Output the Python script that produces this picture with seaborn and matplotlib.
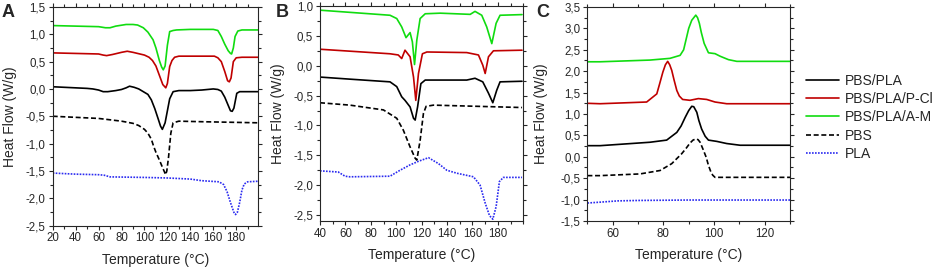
import numpy as np
import pandas as pd
import matplotlib
matplotlib.use('Agg')
import matplotlib.pyplot as plt
import seaborn as sns
from matplotlib.ticker import MultipleLocator, FuncFormatter

sns.set_style('ticks')
plt.rcParams['font.family'] = ['Liberation Sans', 'DejaVu Sans']

""" data read off the DSC curves """
Labels = ['PBS/PLA', 'PBS/PLA/P-Cl', 'PBS/PLA/A-M', 'PBS', 'PLA']
Colors = ['#000000', '#c00000', '#10dc10', '#000000', '#2b2bf0']

# panel A
A_T_blend = [20, 30, 40, 50, 55, 60, 64, 68, 75, 80, 84, 87, 91, 95, 99, 103, 106, 109, 112, 114, 115.6, 118, 120, 122, 125, 130, 140, 150, 160, 164, 167, 170, 173, 175, 176.5, 178, 180.5, 183, 190, 199]
A_HF_blend = [0.04, 0.03, 0.02, 0.01, 0.0, -0.02, -0.05, -0.05, -0.03, -0.01, 0.02, 0.05, 0.03, 0.0, -0.05, -0.1, -0.2, -0.36, -0.55, -0.68, -0.74, -0.62, -0.4, -0.18, -0.05, -0.03, -0.03, -0.02, 0.0, -0.01, -0.04, -0.15, -0.3, -0.4, -0.41, -0.35, -0.08, -0.05, -0.05, -0.05]
A_T_pcl = [20, 40, 60, 64, 67, 72, 80, 85, 90, 96, 100, 104, 107, 110, 113, 116, 118.6, 120, 122, 124, 126.3, 130, 150, 161, 164, 167, 170, 172.5, 174, 175.5, 177.5, 180, 185, 199]
A_HF_pcl = [0.66, 0.65, 0.64, 0.62, 0.61, 0.63, 0.67, 0.69, 0.67, 0.64, 0.62, 0.58, 0.52, 0.42, 0.25, 0.08, 0.02, 0.1, 0.41, 0.52, 0.58, 0.6, 0.6, 0.6, 0.57, 0.5, 0.32, 0.15, 0.13, 0.2, 0.5, 0.57, 0.58, 0.58]
A_T_am = [20, 40, 60, 66, 70, 75, 84, 90, 94, 99, 103, 107.5, 110, 113, 115, 116.4, 118, 120, 122, 125, 128, 140, 160, 164, 167, 170, 173, 175, 176, 177.5, 179, 181.4, 185, 199]
A_HF_am = [1.16, 1.15, 1.14, 1.12, 1.12, 1.15, 1.18, 1.18, 1.17, 1.12, 1.04, 0.9, 0.75, 0.52, 0.4, 0.35, 0.42, 0.8, 1.05, 1.07, 1.08, 1.09, 1.09, 1.07, 0.96, 0.82, 0.7, 0.65, 0.64, 0.75, 0.96, 1.06, 1.08, 1.08]
A_T_pbs = [20, 40, 60, 80, 90, 95, 100, 103, 106, 108, 110, 113, 116, 118.5, 119.5, 121, 123, 125, 130, 150, 175, 199]
A_HF_pbs = [-0.5, -0.52, -0.54, -0.59, -0.63, -0.67, -0.74, -0.81, -0.92, -1.05, -1.16, -1.3, -1.45, -1.57, -1.5, -1.25, -0.81, -0.62, -0.59, -0.6, -0.61, -0.62]
A_T_pla = [20, 40, 60, 65, 70, 100, 120, 140, 150, 165, 169, 172, 175, 178, 179.4, 181, 183, 185, 187, 190, 199]
A_HF_pla = [-1.54, -1.56, -1.57, -1.58, -1.61, -1.62, -1.63, -1.65, -1.68, -1.7, -1.75, -1.88, -2.08, -2.26, -2.3, -2.26, -2.08, -1.85, -1.74, -1.7, -1.69]

# panel B
B_T_blend = [40, 63.6, 95.1, 100.4, 104.3, 106.9, 110.9, 113.6, 114.9, 116.8, 119.4, 122.8, 155.5, 162, 168.1, 172.6, 176, 179.1, 181.7, 199]
B_HF_blend = [-0.19, -0.225, -0.27, -0.35, -0.52, -0.58, -0.69, -0.88, -0.91, -0.69, -0.3, -0.24, -0.24, -0.21, -0.27, -0.46, -0.62, -0.41, -0.27, -0.26]
B_T_pcl = [40, 95.1, 101.6, 104.3, 106.9, 110.9, 113.6, 115.4, 117.5, 120.6, 124.1, 155.5, 164.7, 168.1, 170, 172.6, 176.5, 199]
B_HF_pcl = [0.276, 0.2, 0.18, 0.12, 0.26, 0.15, -0.19, -0.58, -0.13, 0.2, 0.23, 0.22, 0.18, 0.01, -0.13, 0.15, 0.25, 0.26]
B_T_am = [40, 95.1, 100.4, 104.3, 107.7, 110.9, 112.7, 114.4, 116.2, 118.8, 122.8, 134.6, 158.2, 162, 167.3, 171.2, 175.2, 178.6, 181.7, 199]
B_HF_am = [0.93, 0.845, 0.79, 0.65, 0.47, 0.555, 0.4, 0.02, 0.43, 0.79, 0.87, 0.88, 0.86, 0.91, 0.845, 0.65, 0.37, 0.71, 0.845, 0.856]
B_T_pbs = [40, 63.6, 89.9, 100.4, 105.6, 110.9, 114.9, 116.2, 118.8, 121.4, 123.5, 129.3, 199]
B_HF_pbs = [-0.62, -0.66, -0.74, -0.88, -1.08, -1.36, -1.55, -1.58, -1.25, -0.8, -0.68, -0.66, -0.7]
B_T_pla = [40, 54.4, 59.7, 63.6, 95.1, 103, 110.9, 117.5, 125.4, 133.3, 139.8, 147.7, 160.8, 166, 170, 173.4, 176, 178.6, 181.2, 184.3, 199]
B_HF_pla = [-1.76, -1.78, -1.85, -1.86, -1.85, -1.75, -1.66, -1.6, -1.54, -1.64, -1.75, -1.8, -1.86, -2.0, -2.3, -2.51, -2.57, -2.36, -1.94, -1.87, -1.87]

# panel C
C_T_blend = [50, 55, 74.7, 81.3, 85.3, 87, 88.6, 90, 91.2, 92, 93.2, 94, 95.1, 96.5, 97.8, 101.1, 105, 110.3, 130]
C_HF_blend = [0.26, 0.26, 0.34, 0.39, 0.57, 0.72, 0.92, 1.08, 1.18, 1.17, 1.04, 0.85, 0.65, 0.48, 0.39, 0.36, 0.31, 0.27, 0.27]
C_T_pcl = [50, 55, 73.4, 77.4, 78.5, 79.8, 80.8, 81.7, 82.5, 83.3, 84.2, 85.3, 86.3, 87.6, 90.5, 93.8, 97.1, 100.4, 105, 130]
C_HF_pcl = [1.25, 1.24, 1.28, 1.47, 1.7, 1.98, 2.15, 2.23, 2.15, 2.02, 1.8, 1.55, 1.42, 1.34, 1.32, 1.36, 1.34, 1.28, 1.24, 1.24]
C_T_am = [50, 55, 74.7, 82.6, 86.6, 88, 89.2, 90, 91.2, 92.8, 93.5, 94.2, 95, 96.1, 97.8, 100.4, 102.4, 105.7, 109, 130]
C_HF_am = [2.22, 2.22, 2.26, 2.3, 2.37, 2.5, 2.8, 3.0, 3.19, 3.31, 3.25, 3.12, 2.9, 2.65, 2.43, 2.41, 2.35, 2.27, 2.23, 2.23]
C_T_pbs = [50, 55, 70.8, 78.7, 83.3, 87.2, 89, 90.5, 91.7, 92.9, 93.7, 94.5, 95.7, 96.9, 97.8, 98.8, 99.5, 100.4, 130]
C_HF_pbs = [-0.44, -0.44, -0.4, -0.32, -0.16, 0.07, 0.2, 0.32, 0.39, 0.42, 0.4, 0.34, 0.17, -0.01, -0.2, -0.36, -0.43, -0.48, -0.48]
C_T_pla = [50, 55, 62, 70, 90, 130]
C_HF_pla = [-1.08, -1.06, -1.03, -1.02, -1.01, -1.01]


def comma_fmt(v, pos):
	return ('%.1f' % v).replace('.', ',')


def draw_panel(ax, curves, with_labels=False):
	for i, (T, HF) in enumerate(curves):
		style = '-'
		if Labels[i] == 'PBS':
			style = (0, (3, 1.6))
		elif Labels[i] == 'PLA':
			style = (0, (1, 0.8))
		sns.lineplot(x=T, y=HF, ax=ax, color=Colors[i], linestyle=style, linewidth=1.2,
					 label=Labels[i] if with_labels else None, legend=False)
	ax.yaxis.set_major_formatter(FuncFormatter(comma_fmt))
	ax.yaxis.set_major_locator(MultipleLocator(0.5))
	ax.yaxis.set_minor_locator(MultipleLocator(0.25))
	ax.xaxis.set_minor_locator(MultipleLocator(10))
	ax.tick_params(which='both', direction='out', top=True, right=True, labelsize=8.3, width=0.8, pad=2)
	ax.tick_params(which='major', length=3)
	ax.tick_params(which='minor', length=2)
	for s in ax.spines.values():
		s.set_linewidth(0.8)
	ax.set_xlabel('Temperature (°C)', fontsize=10)
	ax.set_ylabel('Heat Flow (W/g)', fontsize=10)
	ax.xaxis.set_label_coords(0.5, -0.125)


fig = plt.figure(figsize=(9.41, 2.69), dpi=100)
W, H = 941.0, 269.0
axA = fig.add_axes([52.7/W, 1 - 225.5/H, 205.3/W, 218.5/H])
axB = fig.add_axes([320/W, 1 - 221/H, 203.3/W, 215/H])
axC = fig.add_axes([587.4/W, 1 - 221/H, 202.6/W, 214/H])

draw_panel(axA, [(A_T_blend, A_HF_blend), (A_T_pcl, A_HF_pcl), (A_T_am, A_HF_am), (A_T_pbs, A_HF_pbs), (A_T_pla, A_HF_pla)])
draw_panel(axB, [(B_T_blend, B_HF_blend), (B_T_pcl, B_HF_pcl), (B_T_am, B_HF_am), (B_T_pbs, B_HF_pbs), (B_T_pla, B_HF_pla)])
draw_panel(axC, [(C_T_blend, C_HF_blend), (C_T_pcl, C_HF_pcl), (C_T_am, C_HF_am), (C_T_pbs, C_HF_pbs), (C_T_pla, C_HF_pla)], with_labels=True)

axA.set_xlim(20, 199)
axA.set_ylim(-2.5, 1.5)
axA.set_xticks(np.arange(20, 181, 20))
axB.set_xlim(40, 200)
axB.set_ylim(-2.6, 1.0)
axB.set_xticks(np.arange(40, 181, 20))
axC.set_xlim(50, 130)
axC.set_ylim(-1.5, 3.5)
axC.set_xticks([60, 80, 100, 120])

axA.yaxis.set_label_coords(-0.174, 0.5)
axB.yaxis.set_label_coords(-0.172, 0.5)
axC.yaxis.set_label_coords(-0.194, 0.5)

fig.text(2/W, 1 - 4/H, 'A', fontsize=13, fontweight='bold', va='top', ha='left')
fig.text(276/W, 1 - 4/H, 'B', fontsize=13, fontweight='bold', va='top', ha='left')
fig.text(536/W, 1 - 4/H, 'C', fontsize=13, fontweight='bold', va='top', ha='left')

handles, labels = axC.get_legend_handles_labels()
if axC.get_legend() is not None:
	axC.get_legend().remove()
fig.legend(handles, labels, loc='upper left', bbox_to_anchor=(806/W, 1 - 74/H), frameon=False,
		   fontsize=10, handlelength=2.4, handletextpad=0.4, labelspacing=0.3,
		   borderpad=0, borderaxespad=0)

plt.savefig('out.png', dpi=100)
